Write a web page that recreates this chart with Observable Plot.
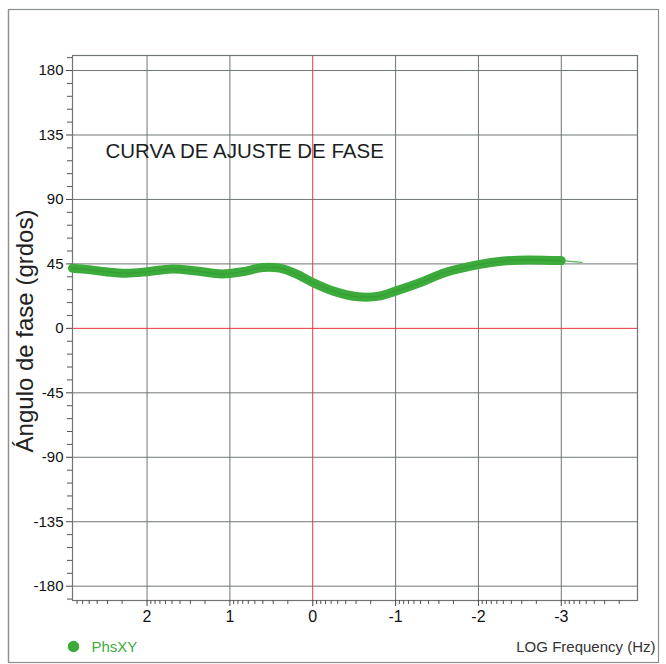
<!DOCTYPE html>
<html><head><meta charset="utf-8">
<script src="https://cdn.jsdelivr.net/npm/d3@7"></script>
<script src="https://cdn.jsdelivr.net/npm/@observablehq/plot@0.6"></script>
<style>
body{margin:0;background:#fff;}
#chart svg{font-family:"Liberation Sans",Arial,sans-serif;}
</style>
</head><body><div id="chart"></div>
<script>
// Data
const logFreq = [2.9, 2.7, 2.5, 2.25, 2.0, 1.7, 1.4, 1.1, 0.85, 0.6, 0.4, 0.2, 0.0, -0.25, -0.55, -0.8, -1.0, -1.3, -1.6, -2.0, -2.3, -2.6, -3.0];
const phase   = [42, 41, 39.5, 38.5, 39.5, 41.5, 40, 38, 39.5, 42.5, 42, 38, 32, 26, 22, 22.5, 26, 32, 39, 44.5, 47, 47.8, 47.3];
const tailFreq  = [-3.0, -3.25];
const tailPhase = [47.3, 46];
const xTicks = [2, 1, 0, -1, -2, -3];
const yTicks = [180, 135, 90, 45, 0, -45, -90, -135, -180];
const titleText = "CURVA DE AJUSTE DE FASE";
const yLabel = "Ángulo de fase (grdos)";
const xLabel = "LOG Frequency (Hz)";
const seriesName = "PhsXY";

const curve = logFreq.map((x, i) => ({x, y: phase[i]}));
const tail = tailFreq.map((x, i) => ({x, y: tailPhase[i]}));

// minor ticks
const xMinor = [];
for (let d = -4; d <= 2; d++) for (let k = 2; k <= 9; k++) {
  const v = d + Math.log10(k);
  if (v <= 2.9 && v >= -3.92) xMinor.push(v);
}
const yMinor = d3.range(-189, 190, 9).filter(v => v % 45 !== 0);

const gridColor = "#6f7575";
const red = "#e8343a";
const green = "#3cab3c";
const narrow = "'Liberation Sans Narrow', 'Arial Narrow', 'Liberation Sans', Arial, sans-serif";

const plot = Plot.plot({
  width: 666,
  height: 664,
  marginLeft: 72,
  marginRight: 29,
  marginTop: 55,
  marginBottom: 64,
  style: {fontFamily: "Liberation Sans, Arial, sans-serif", background: "#fff"},
  x: {domain: [2.9, -3.92]},
  y: {domain: [-190, 190.5]},
  marks: [
    Plot.gridX(xTicks.filter(d => d !== 0), {stroke: gridColor, strokeOpacity: 1, strokeWidth: 1}),
    Plot.gridY(yTicks.filter(d => d !== 0), {stroke: gridColor, strokeOpacity: 1, strokeWidth: 1}),
    Plot.ruleX([0], {stroke: red, strokeWidth: 1}),
    Plot.ruleY([0], {stroke: red, strokeWidth: 1}),
    Plot.frame({stroke: gridColor, strokeWidth: 1.2}),
    Plot.axisY(yTicks, {anchor: "left", tickSize: 6, tickPadding: 3, fontSize: 15, fontFamily: narrow, label: null, tickFormat: d => String(d), stroke: "#444", fill: "#111"}),
    Plot.axisY(yMinor, {anchor: "left", tickSize: 5, text: null, label: null, stroke: "#555"}),
    Plot.axisX(xTicks, {anchor: "bottom", tickSize: 6, tickPadding: 4, fontSize: 16, fontFamily: narrow, label: null, tickFormat: d => String(d), stroke: "#444", fill: "#111"}),
    Plot.axisX(xMinor, {anchor: "bottom", tickSize: 4, text: null, label: null, stroke: "#555"}),
    Plot.line(tail, {x: "x", y: "y", stroke: "#58b858", strokeWidth: 1.3}),
    Plot.line(curve, {x: "x", y: "y", stroke: green, strokeWidth: 9, curve: "catmull-rom"}),
    Plot.line(curve, {x: "x", y: "y", stroke: "#2e962e", strokeWidth: 1.2, strokeOpacity: 0.6, curve: "catmull-rom"}),
    Plot.text([titleText], {frameAnchor: "top-left", dx: 33, dy: 96, text: d => d, textAnchor: "start", fontSize: 20.5, fill: "#1a1e1e", lineAnchor: "middle", letterSpacing: "-0.3px"}),
    Plot.text([yLabel], {frameAnchor: "left", dx: -47, dy: 3, rotate: -90, textAnchor: "middle", lineAnchor: "middle", text: d => d, fontSize: 24, fill: "#222"}),
    Plot.dot([seriesName], {frameAnchor: "bottom-left", dx: 1, dy: 46, r: 5, fill: green, stroke: green, symbol: "circle"}),
    Plot.text([seriesName], {frameAnchor: "bottom-left", dx: 19, dy: 51, text: d => d, textAnchor: "start", fontSize: 15, fill: green}),
    Plot.text([xLabel], {frameAnchor: "bottom-right", dx: 18, dy: 51, text: d => d, textAnchor: "end", fontSize: 15, fill: "#333"})
  ]
});

// outer border around the whole chart
const svg = d3.select(plot);
svg.insert("rect", ":first-child")
  .attr("x", 8.5).attr("y", 9.5).attr("width", 650).attr("height", 653)
  .attr("fill", "none").attr("stroke", "#8a8f8f").attr("stroke-width", 1.2);
svg.insert("line", ":first-child")
  .attr("x1", 8.5).attr("x2", 8.5).attr("y1", 9.5).attr("y2", 662.5)
  .attr("stroke", "#b04a4a").attr("stroke-width", 1.2);

document.getElementById("chart").appendChild(plot);
</script>
</body></html>
